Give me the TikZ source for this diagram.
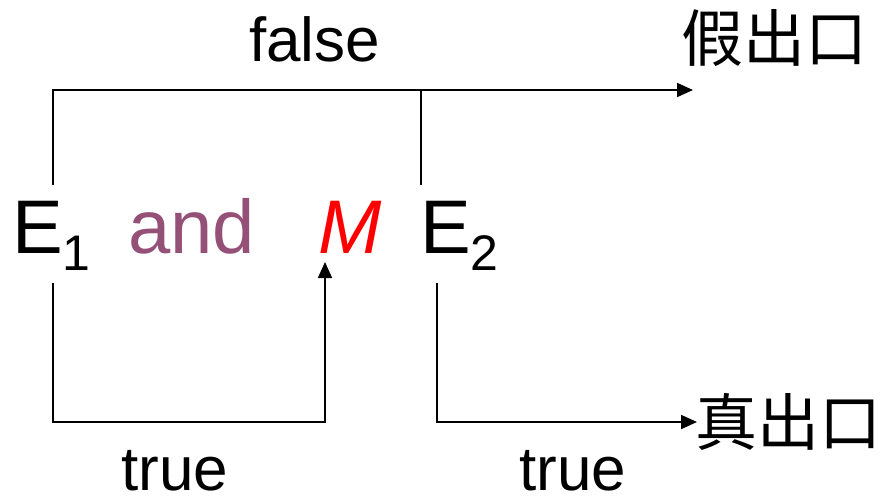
\documentclass[tikz,border=0pt]{standalone}
\usepackage{fontspec}
\setmainfont{Liberation Sans}
\newfontfamily\cjk{Noto Sans CJK SC}
\usetikzlibrary{arrows.meta}
\definecolor{andPurple}{HTML}{955078}
\definecolor{mRed}{HTML}{FF0000}
\newcommand{\subnum}[1]{\raisebox{-17pt}{\fontsize{50}{50}\selectfont #1}}
\tikzset{
    % text styles
    bigtext/.style={
        inner sep=0pt,
        anchor=base west,
        font=\fontsize{76}{76}\selectfont
    },
    label/.style={
        inner sep=0pt,
        anchor=base west,
        font=\fontsize{62}{62}\selectfont
    },
    exit/.style={
        inner sep=0pt,
        anchor=base west,
        font=\cjk\fontsize{62}{62}\selectfont
    },
    % connector styles
    line/.style={
        line width=1.8pt,
        draw=black
    },
    arrow/.style={
        line width=1.8pt,
        draw=black,
        -{Triangle[length=16pt,width=14pt]}
    }
}
\begin{document}
\begin{tikzpicture}[x=1pt,y=-1pt]
    \useasboundingbox (0,0) rectangle (885,500);

    \node[bigtext] (e1) at (12,253) {E\subnum{1}};
    \node[bigtext, text=andPurple] (and) at (128,253) {and};
    \node[bigtext, text=mRed, font=\fontsize{76}{76}\selectfont\itshape] (m) at (318,253) {M};
    \node[bigtext] (e2) at (420,253) {E\subnum{2}};

    \node[label] (false) at (249,62) {false};
    \node[label] (true1) at (121,490) {true};
    \node[label] (true2) at (519,490) {true};

    \node[exit] (fexit) at (681,62) {假出口};
    \node[exit] (texit) at (695,445) {真出口};

    \coordinate (e1top) at (53,185);
    \coordinate (e1bot) at (53,283);
    \coordinate (e2top) at (421,185);
    \coordinate (e2bot) at (437,283);
    \coordinate (mbot) at (325,262);
    \coordinate (fout) at (693,90);
    \coordinate (tout) at (697,422);

    \draw[arrow] (e1top) |- (fout);
    \draw[line] (e2top) -- (e2top |- fout);
    \draw[arrow] (e1bot) |- (tout -| mbot) -- (mbot);
    \draw[arrow] (e2bot) |- (tout);
\end{tikzpicture}
\end{document}
